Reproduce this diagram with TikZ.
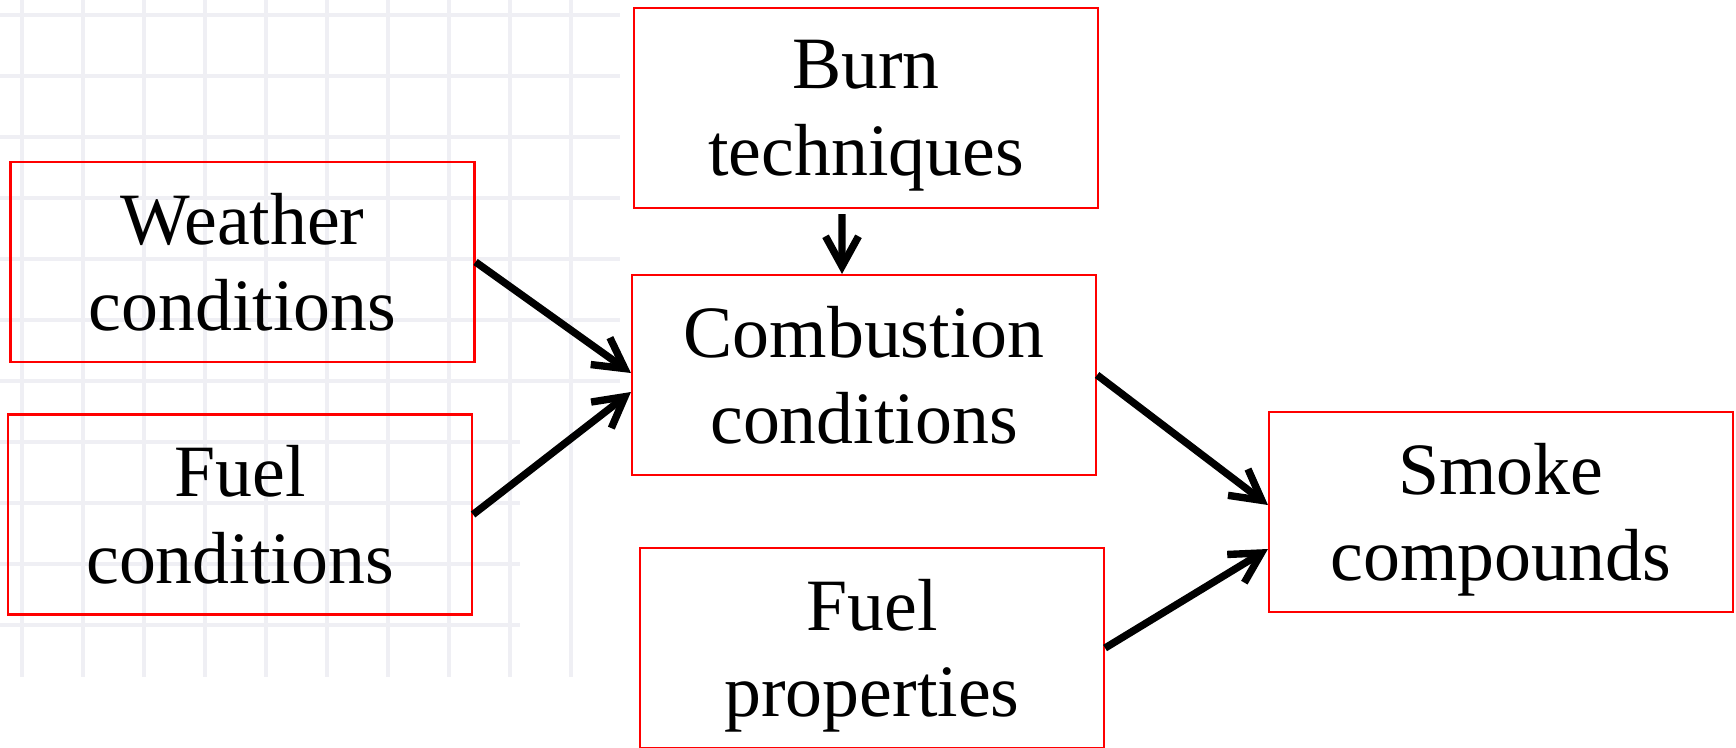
\documentclass[tikz,border=0pt]{standalone}
\usepackage{fontspec}
\setmainfont{Liberation Serif}
\usetikzlibrary{arrows.meta}
\definecolor{gridgray}{RGB}{239,239,244}
\begin{document}
\begin{tikzpicture}[box/.style={draw=red, line width=0.6pt, minimum width=4.64cm, minimum height=2cm, inner sep=0pt, align=center, text depth=0pt, font=\fontsize{21}{24.6}\selectfont}, arr/.style={->, >={Straight Barb[length=3mm, width=3.3mm]}, line width=2.1pt}, gridline/.style={draw=gridgray, line width=0.9pt}]

\useasboundingbox (0,0) rectangle (17.36,7.47);

\foreach \i in {0,...,9} \draw [gridline] ({0.22+0.61*\i},7.47) -- ({0.22+0.61*\i},0.7);
\foreach \j in {0,...,6} \draw [gridline] (0,{7.32-0.61*\j}) -- (6.2,{7.32-0.61*\j});
\foreach \j in {7,...,10} \draw [gridline] (0,{7.32-0.61*\j}) -- (5.2,{7.32-0.61*\j});

\node [box] (burn) at (8.66,6.39) {Burn\\techniques};
\node [box] (weather) at (2.425,4.85) {Weather\\conditions};
\node [box] (fuelcond) at (2.40,2.325) {Fuel\\conditions};
\node [box] (comb) at (8.64,3.72) {Combustion\\conditions};
\node [box] (fuelprop) at (8.72,0.99) {Fuel\\properties};
\node [box] (smoke) at (15.01,2.35) {Smoke\\compounds};

\draw [arr] (weather.east) -- ([yshift=0.02cm]comb.west);
\draw [arr] (fuelcond.east) -- ([yshift=-0.17cm]comb.west);
\draw [arr] ([xshift=-0.24cm,yshift=-0.05cm]burn.south) -- ([xshift=-0.22cm]comb.north);
\draw [arr] (comb.east) -- ([yshift=0.07cm]smoke.west);
\draw [arr] (fuelprop.east) -- ([yshift=-0.37cm]smoke.west);
\end{tikzpicture}
\end{document}
